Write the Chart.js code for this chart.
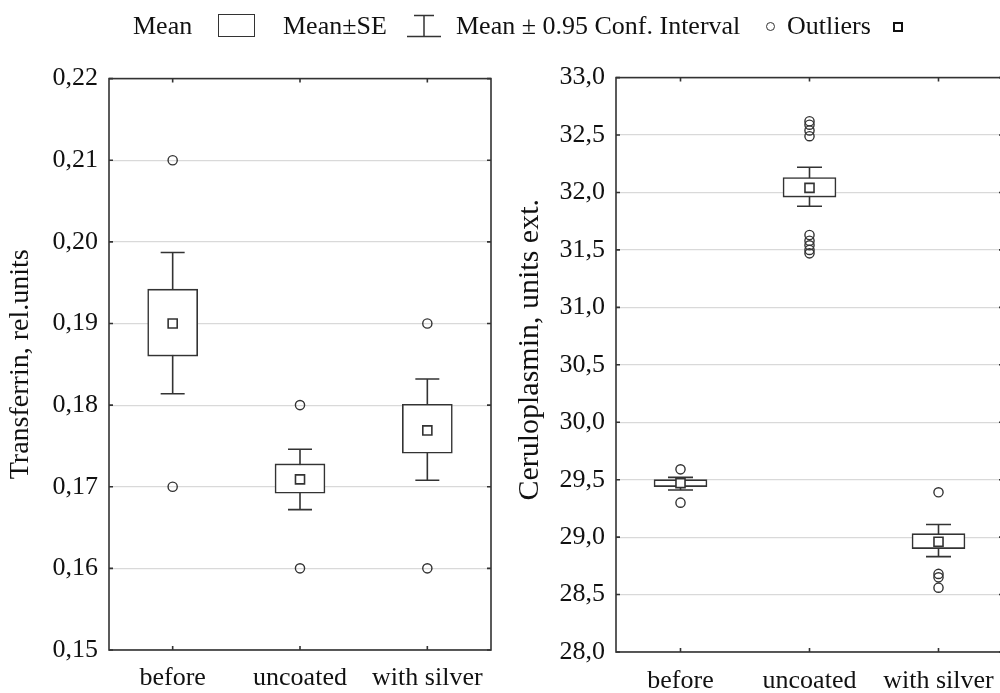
<!DOCTYPE html>
<html>
<head>
<meta charset="utf-8">
<script src="https://cdn.jsdelivr.net/npm/chart.js@4"></script>
<style>
  html, body { margin: 0; padding: 0; background: #fff; width: 1000px; height: 693px; overflow: hidden; }
  body { position: relative; font-family: 'Liberation Serif', 'Times New Roman', serif; color: #111; }
  #legend { position: absolute; top: 1px; left: 0; width: 1000px; height: 52px; font-size: 26px; white-space: nowrap; z-index: 2; }
  #legend > * { position: absolute; }
  #legend .txt { top: 10px; line-height: 30px; }
  .ico-box { top: 13px; width: 35px; height: 21px; border: 1.5px solid #333; }
  .ico-out { top: 21px; width: 7px; height: 7px; border: 1.3px solid #333; border-radius: 50%; }
  .ico-mean { top: 21px; width: 6px; height: 6px; border: 2.2px solid #111; }
  #wrapL { position: absolute; left: 0; top: 52px; }
  #wrapR { position: absolute; left: 500px; top: 51px; }
</style>
</head>
<body>
<div id="legend">
  <span class="txt" style="left:133px">Mean</span>
  <span class="ico-box" style="left:218px"></span>
  <span class="txt" style="left:283px">Mean±SE</span>
  <svg style="left:406px; top:13px" width="36" height="24" viewBox="0 0 36 24"><path d="M8 1.5 H28 M18 1.5 V22.5 M1 22.5 H35" stroke="#333" stroke-width="1.5" fill="none"/></svg>
  <span class="txt" style="left:456px">Mean ± 0.95 Conf. Interval</span>
  <span class="ico-out" style="left:766px"></span>
  <span class="txt" style="left:787px">Outliers</span>
  <span class="ico-mean" style="left:893px"></span>
</div>
<div id="wrapL"><canvas id="chartL" width="500" height="641"></canvas></div>
<div id="wrapR"><canvas id="chartR" width="511" height="642"></canvas></div>
<script>
/* ============================================
   DATA
============================================ */
const groups = ['before', 'uncoated', 'with silver'];

// Transferrin, rel.units
const tfMean = [0.1900, 0.1709, 0.1769];
const tfSeLo = [0.1860, 0.1692, 0.1741];
const tfSeHi = [0.1942, 0.1728, 0.1801];
const tfCiLo = [0.1814, 0.1672, 0.1708];
const tfCiHi = [0.1987, 0.1746, 0.1832];
const tfOutliers = [[0.21, 0.17], [0.18, 0.16], [0.19, 0.16]];
const tfTicks = { min: 0.15, max: 0.22, step: 0.01, digits: 2 };

// Ceruloplasmin, units ext.
const cpMean = [29.47, 32.04, 28.96];
const cpSeLo = [29.44, 31.96, 28.90];
const cpSeHi = [29.50, 32.13, 29.03];
const cpCiLo = [29.41, 31.88, 28.83];
const cpCiHi = [29.52, 32.22, 29.11];
const cpOutliers = [
    [29.59, 29.30],
    [32.62, 32.59, 32.54, 32.49, 31.63, 31.58, 31.54, 31.50, 31.47],
    [29.39, 28.68, 28.65, 28.56]
];
const cpTicks = { min: 28, max: 33, step: 0.5, digits: 1 };

/* ============================================
   PLUGIN: whiskers, frame, inner tick marks
============================================ */
const LINE = '#333';
const FONT = "'Liberation Serif', 'Times New Roman', serif";

const whiskerPlugin = {
    id: 'whiskers',
    beforeDatasetsDraw(chart, args, opts) {
        const { ctx, scales: { x, y } } = chart;
        ctx.save();
        ctx.strokeStyle = LINE;
        ctx.lineWidth = 1.6;
        opts.lo.forEach((lo, i) => {
            const cx = x.getPixelForValue(i);
            const yl = y.getPixelForValue(lo);
            const yh = y.getPixelForValue(opts.hi[i]);
            const h = opts.cap / 2;
            ctx.beginPath();
            ctx.moveTo(cx, yl); ctx.lineTo(cx, yh);
            ctx.moveTo(cx - h, yl); ctx.lineTo(cx + h, yl);
            ctx.moveTo(cx - h, yh); ctx.lineTo(cx + h, yh);
            ctx.stroke();
        });
        ctx.restore();
    },
    afterDraw(chart) {
        const { ctx, chartArea: a, scales: { x, y } } = chart;
        ctx.save();
        ctx.strokeStyle = LINE;
        ctx.lineWidth = 1.6;
        ctx.strokeRect(a.left, a.top, a.right - a.left, a.bottom - a.top);
        ctx.beginPath();
        y.ticks.forEach(t => {
            const py = y.getPixelForValue(t.value);
            ctx.moveTo(a.left, py); ctx.lineTo(a.left + 4, py);
            ctx.moveTo(a.right, py); ctx.lineTo(a.right - 4, py);
        });
        groups.forEach((g, i) => {
            const px = x.getPixelForValue(i);
            ctx.moveTo(px, a.top); ctx.lineTo(px, a.top + 4);
            ctx.moveTo(px, a.bottom); ctx.lineTo(px, a.bottom - 4);
        });
        ctx.stroke();
        ctx.restore();
    }
};

/* ============================================
   CHART BUILDER
============================================ */
function makeChart(id, d) {
    const outPts = [];
    d.outliers.forEach((list, i) => list.forEach(v => outPts.push({ x: groups[i], y: v })));

    return new Chart(document.getElementById(id).getContext('2d'), {
        type: 'bar',
        data: {
            labels: groups,
            datasets: [
                {
                    type: 'bar',
                    data: d.seLo.map((lo, i) => [lo, d.seHi[i]]),
                    backgroundColor: '#fff',
                    borderColor: LINE,
                    borderWidth: 1.6,
                    borderSkipped: false,
                    barThickness: d.boxW,
                    order: 3
                },
                {
                    type: 'line',
                    data: outPts,
                    showLine: false,
                    pointStyle: 'circle',
                    pointRadius: 4.6,
                    pointBackgroundColor: 'rgba(255,255,255,0)',
                    pointBorderColor: LINE,
                    pointBorderWidth: 1.4,
                    order: 2
                },
                {
                    type: 'line',
                    data: d.mean,
                    showLine: false,
                    pointStyle: 'rect',
                    pointRadius: 6.4,
                    pointBackgroundColor: '#fff',
                    pointBorderColor: LINE,
                    pointBorderWidth: 1.6,
                    order: 1
                }
            ]
        },
        options: {
            responsive: false,
            animation: false,
            devicePixelRatio: 1,
            layout: { padding: d.pad },
            plugins: {
                legend: { display: false },
                tooltip: { enabled: false },
                whiskers: { lo: d.ciLo, hi: d.ciHi, cap: d.capW }
            },
            scales: {
                x: {
                    type: 'category',
                    offset: true,
                    grid: { display: false },
                    border: { display: false },
                    ticks: {
                        color: '#111',
                        padding: d.xPad,
                        maxRotation: 0,
                        font: { family: FONT, size: 26 }
                    },
                    afterFit: s => { s.height = d.xH; }
                },
                y: {
                    min: d.ticks.min,
                    max: d.ticks.max,
                    grid: { color: '#d9d9d9', lineWidth: 1.2, drawTicks: false },
                    border: { display: false },
                    ticks: {
                        stepSize: d.ticks.step,
                        color: '#111',
                        padding: 11,
                        font: { family: FONT, size: 26 },
                        callback: v => Number(v).toFixed(d.ticks.digits).replace('.', ',')
                    },
                    title: {
                        display: true,
                        text: d.title,
                        color: '#111',
                        font: { family: FONT, size: d.titleSize },
                        padding: { top: d.titlePad, bottom: 0 }
                    },
                    afterFit: s => { s.width = d.yW; }
                }
            }
        },
        plugins: [whiskerPlugin]
    });
}

/* ============================================
   INIT
============================================ */
makeChart('chartL', {
    mean: tfMean, seLo: tfSeLo, seHi: tfSeHi, ciLo: tfCiLo, ciHi: tfCiHi,
    outliers: tfOutliers, ticks: tfTicks,
    title: 'Transferrin, rel.units', titleSize: 28,
    boxW: 50, capW: 24, yW: 109, xH: 43, xPad: 5, titlePad: 4,
    pad: { top: 11.5, right: 9, bottom: 0, left: 0 }
});

makeChart('chartR', {
    mean: cpMean, seLo: cpSeLo, seHi: cpSeHi, ciLo: cpCiLo, ciHi: cpCiHi,
    outliers: cpOutliers, ticks: cpTicks,
    // leading spaces nudge the rotated title upward like in the original
    title: '\u00A0\u00A0\u00A0\u00A0Ceruloplasmin, units ext.', titleSize: 30,
    boxW: 53, capW: 25, yW: 116, xH: 41, xPad: 6, titlePad: 12,
    pad: { top: 10.5, right: 0, bottom: 0, left: 0 }
});
</script>
</body>
</html>
